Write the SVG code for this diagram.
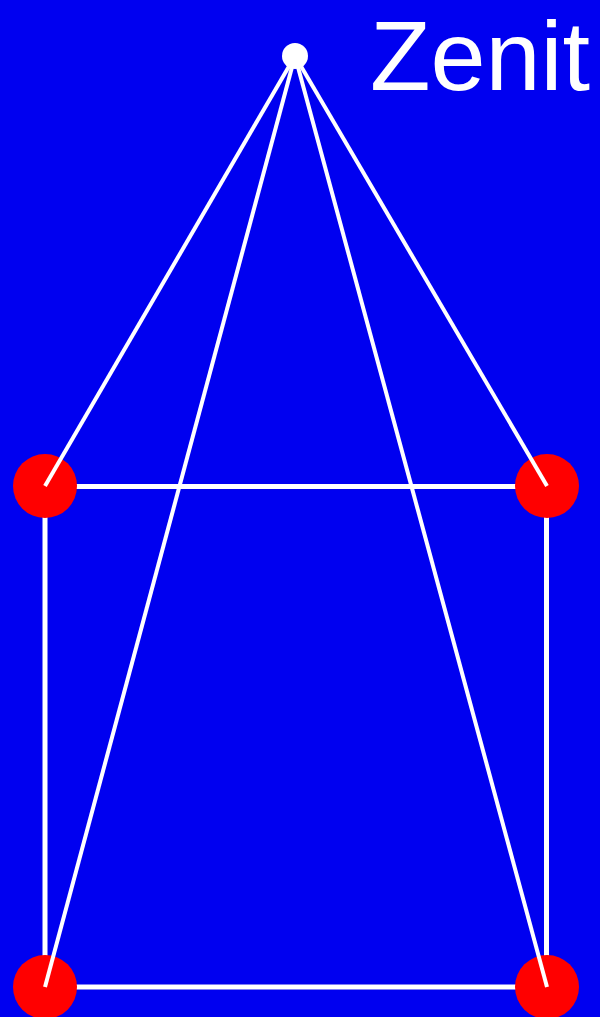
<svg xmlns="http://www.w3.org/2000/svg" width="600" height="1017" viewBox="0 0 600 1017">
<style>
.sq{stroke:#fff;stroke-width:5;fill:none}
.ray{stroke:#fff;stroke-width:4;stroke-linecap:butt}
.corner{fill:#ff0000}
</style>
<rect width="600" height="1017" fill="#0000f0"/>
<g id="connectors">
<rect class="sq" x="45" y="486.5" width="501.5" height="500.5"/>
</g>
<g id="corner-tl"><circle class="corner" cx="45" cy="486" r="32"/></g>
<g id="corner-tr"><circle class="corner" cx="547" cy="486" r="32"/></g>
<g id="corner-bl"><circle class="corner" cx="45" cy="987" r="32"/></g>
<g id="corner-br"><circle class="corner" cx="547" cy="987" r="32"/></g>
<g id="rays">
<line class="ray" x1="295" y1="56" x2="45" y2="486"/>
<line class="ray" x1="295" y1="56" x2="547" y2="486"/>
<line class="ray" x1="295" y1="56" x2="45" y2="987"/>
<line class="ray" x1="295" y1="56" x2="547" y2="987"/>
</g>
<g id="zenit">
<circle cx="295" cy="56" r="13" fill="#fff"/>
<text x="370" y="90" font-family="Liberation Sans, Arial, sans-serif" font-size="99" fill="#fff">Zenit</text>
</g>
</svg>
